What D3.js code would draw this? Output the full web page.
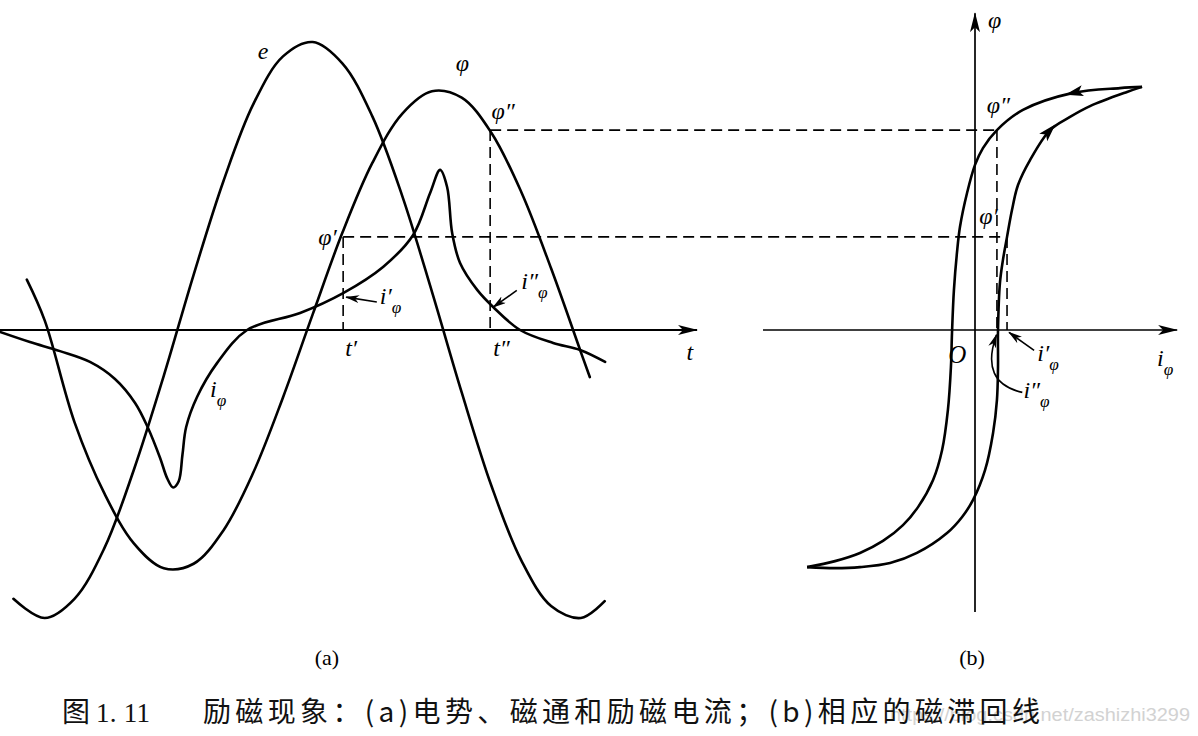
<!DOCTYPE html>
<html>
<head>
<meta charset="utf-8">
<script src="https://cdn.jsdelivr.net/npm/d3@7"></script>
<style>
  body { margin: 0; background: #fff; }
  svg { display: block; }
  .math { font-family: "Liberation Serif", "DejaVu Serif", serif; font-style: italic; }
</style>
</head>
<body>
<div id="figure"></div>
<script>
// (a) time curves: t in electrical degrees, values normalised to flux amplitude
const phiPts = [[18,0.21],[30,0.04],[50,-0.384],[70,-0.68],[90,-0.89],[110,-0.993],[130,-0.974],
  [150,-0.835],[170,-0.595],[190,-0.281],[210,0.066],[230,0.407],[250,0.696],[270,0.901],[290,0.995],
  [310,0.968],[330,0.821],[350,0.575],[370,0.257],[390,-0.092],[396,-0.196]];

const ePts = [[9,-1.12],[30,-1.2],[50,-1.12],[70,-0.91],[90,-0.58],[110,-0.19],[130,0.23],[150,0.62],
  [170,0.94],[190,1.14],[210,1.2],[230,1.11],[250,0.89],[270,0.56],[290,0.16],[310,-0.26],[330,-0.65],
  [350,-0.96],[370,-1.15],[390,-1.2],[406,-1.13]];

const iPts = [[0,-0.008],[20.1,-0.05],[40.3,-0.088],[60.4,-0.133],[77.2,-0.204],[90.7,-0.304],
  [99.4,-0.408],[107.5,-0.533],[112.2,-0.617],[116.2,-0.656],[120,-0.63],[122.5,-0.52],[125,-0.404],
  [132.3,-0.279],[145.7,-0.138],[165.9,0],[201.5,0.071],[230.4,0.154],[257.2,0.263],[277.4,0.396],
  [288.8,0.571],[295.5,0.667],[300.2,0.596],[303.6,0.404],[308.9,0.279],[320.4,0.167],
  [331.1,0.096],[349.2,0],[371.4,-0.054],[389.5,-0.083],[406.3,-0.133]];

// (b) hysteresis loop: [i_phi, phi]
const upperBranch = [[0.777,1.013],[0.674,1.008],[0.456,0.988],[0.223,0.917],[0.102,0.833],[0.037,0.758],
  [0,0.688],[-0.037,0.571],[-0.070,0.429],[-0.084,0.321],[-0.098,0.167],[-0.107,-0.013],[-0.112,-0.154],
  [-0.126,-0.333],[-0.153,-0.5],[-0.195,-0.625],[-0.265,-0.738],[-0.335,-0.813],[-0.428,-0.879],
  [-0.535,-0.929],[-0.651,-0.963],[-0.781,-0.988]];
const lowerBranch = [[-0.781,-0.988],[-0.651,-0.992],[-0.535,-0.988],[-0.395,-0.971],[-0.270,-0.929],
  [-0.130,-0.846],[-0.060,-0.779],[-0.009,-0.708],[0.047,-0.583],[0.084,-0.429],[0.102,-0.292],
  [0.107,-0.154],[0.107,0],[0.116,0.196],[0.130,0.292],[0.149,0.388],[0.172,0.5],[0.2,0.604],
  [0.256,0.708],[0.349,0.833],[0.442,0.888],[0.535,0.933],[0.707,0.992],[0.777,1.013]];

// marked instants
const tPrime = 230.4, tDouble = 329.1;
const phiPrime = 0.388, phiDouble = 0.833;
const iPrime = 0.149, iDouble = 0.102;

const W = 1198, H = 736;
const x = d3.scaleLinear().domain([0, 470]).range([0, 700]);
const y = d3.scaleLinear().domain([-1, 1]).range([570, 90]);
const xi = d3.scaleLinear().domain([-1, 1]).range([760, 1190]);

const svg = d3.select("#figure").append("svg")
  .attr("width", W).attr("height", H);

const defs = svg.append("defs");
defs.append("marker")
  .attr("id", "axisArrow")
  .attr("viewBox", "0 0 20 10")
  .attr("refX", 19).attr("refY", 5)
  .attr("markerWidth", 20).attr("markerHeight", 10)
  .attr("markerUnits", "userSpaceOnUse")
  .attr("orient", "auto")
  .append("path").attr("d", "M0,0 L20,5 L0,10 L5,5 Z").attr("fill", "#000");
defs.append("marker")
  .attr("id", "smallArrow")
  .attr("viewBox", "0 0 14 8")
  .attr("refX", 13).attr("refY", 4)
  .attr("markerWidth", 14).attr("markerHeight", 8)
  .attr("markerUnits", "userSpaceOnUse")
  .attr("orient", "auto")
  .append("path").attr("d", "M0,0 L14,4 L0,8 L4,4 Z").attr("fill", "#000");

const smooth = d3.line().curve(d3.curveCatmullRom.alpha(0.5)).x(d => x(d[0])).y(d => y(d[1]));

// ---- panel (a)
svg.append("line")
  .attr("x1", x(0)).attr("x2", x(468)).attr("y1", y(0)).attr("y2", y(0))
  .attr("stroke", "#000").attr("stroke-width", 2).attr("marker-end", "url(#axisArrow)");

const dash = { stroke: "#000", width: 1.6, array: "11,6" };
function dashed(x1, y1, x2, y2) {
  svg.append("line")
    .attr("x1", x1).attr("y1", y1).attr("x2", x2).attr("y2", y2)
    .attr("stroke", dash.stroke).attr("stroke-width", dash.width)
    .attr("stroke-dasharray", dash.array);
}
dashed(x(tPrime), y(phiPrime), xi(iPrime), y(phiPrime));
dashed(x(tPrime), y(phiPrime), x(tPrime), y(0));
dashed(x(tDouble), y(phiDouble), xi(iDouble), y(phiDouble));
dashed(x(tDouble), y(phiDouble), x(tDouble), y(0));
dashed(xi(iDouble), y(phiDouble), xi(iDouble), y(0));
dashed(xi(iPrime), y(phiPrime), xi(iPrime), y(0));

[ePts, phiPts, iPts].forEach(pts => {
  svg.append("path")
    .attr("d", smooth(pts))
    .attr("fill", "none").attr("stroke", "#000").attr("stroke-width", 2.6)
    .attr("stroke-linecap", "round");
});

// ---- panel (b)
svg.append("line")
  .attr("x1", xi(-0.986)).attr("x2", xi(0.94)).attr("y1", y(0)).attr("y2", y(0))
  .attr("stroke", "#000").attr("stroke-width", 1.7).attr("marker-end", "url(#axisArrow)");
svg.append("line")
  .attr("x1", xi(0)).attr("x2", xi(0)).attr("y1", y(-1.175)).attr("y2", y(1.32))
  .attr("stroke", "#000").attr("stroke-width", 1.7).attr("marker-end", "url(#axisArrow)");

const iLine = d3.line().curve(d3.curveCatmullRom.alpha(0.5)).x(d => xi(d[0])).y(d => y(d[1]));
[upperBranch, lowerBranch].forEach(pts => {
  svg.append("path")
    .attr("d", iLine(pts))
    .attr("fill", "none").attr("stroke", "#000").attr("stroke-width", 2.6)
    .attr("stroke-linejoin", "round");
});

// direction arrows on loop
function loopArrow(pts, k) {
  const p0 = [xi(pts[k - 1][0]), y(pts[k - 1][1])];
  const p1 = [xi(pts[k + 1][0]), y(pts[k + 1][1])];
  const c = [xi(pts[k][0]), y(pts[k][1])];
  const ang = Math.atan2(p1[1] - p0[1], p1[0] - p0[0]) * 180 / Math.PI;
  svg.append("path")
    .attr("d", "M8,0 L-10,-5.5 L-6,0 L-10,5.5 Z")
    .attr("fill", "#000")
    .attr("transform", `translate(${c[0]},${c[1]}) rotate(${ang})`);
}
loopArrow(upperBranch, 2);
loopArrow(lowerBranch, 19);

// ---- labels
function mathLabel(px, py, main, sub, size) {
  const t = svg.append("text").attr("class", "math")
    .attr("x", px).attr("y", py).attr("font-size", size || 24);
  t.append("tspan").text(main);
  if (sub) t.append("tspan").attr("font-size", (size || 24) * 0.72).attr("dy", 9).text(sub);
  return t;
}
function pointer(x1, y1, x2, y2) {
  svg.append("line")
    .attr("x1", x1).attr("y1", y1).attr("x2", x2).attr("y2", y2)
    .attr("stroke", "#000").attr("stroke-width", 1.6).attr("marker-end", "url(#smallArrow)");
}

mathLabel(x(173), y(1.13), "e");
mathLabel(x(306), y(1.08), "φ");
mathLabel(x(330), y(0.88), "φ″");
mathLabel(x(tPrime) - 25, y(phiPrime) + 8, "φ′");
mathLabel(x(255), y(0.11), "i′", "φ");
pointer(x(253), y(0.117), x(tPrime) + 3, y(0.137));
mathLabel(x(350), y(0.17), "i″", "φ");
pointer(x(347), y(0.165), x(tDouble) + 3, y(0.095));
mathLabel(x(tPrime) + 2, y(-0.11), "t′");
mathLabel(x(tDouble) + 3, y(-0.11), "t″");
mathLabel(x(461), y(-0.125), "t");
mathLabel(x(141), y(-0.28), "i", "φ");

mathLabel(xi(0.06), y(1.26), "φ");
mathLabel(xi(0.055), y(0.905), "φ″");
mathLabel(xi(0.02), y(0.44), "φ′");
mathLabel(xi(-0.125), y(-0.138), "O", null, 25);
mathLabel(xi(0.29), y(-0.13), "i′", "φ");
pointer(xi(0.275), y(-0.085), xi(iPrime) + 2, y(-0.01));
mathLabel(xi(0.225), y(-0.285), "i″", "φ");
svg.append("path")
  .attr("d", `M${xi(0.22)},${y(-0.26)} Q${xi(0.02)},${y(-0.22)} ${xi(0.1)},${y(-0.02)}`)
  .attr("fill", "none").attr("stroke", "#000").attr("stroke-width", 1.6)
  .attr("marker-end", "url(#smallArrow)");
mathLabel(xi(0.847), y(-0.148), "i", "φ");

// sub-figure tags and caption
svg.append("text").attr("x", 327).attr("y", 665).attr("text-anchor", "middle")
  .attr("font-family", "Liberation Serif, serif").attr("font-size", 22).text("(a)");
svg.append("text").attr("x", 972).attr("y", 665).attr("text-anchor", "middle")
  .attr("font-family", "Liberation Serif, serif").attr("font-size", 22).text("(b)");

svg.append("text").attr("x", 890).attr("y", 721)
  .attr("font-family", "Liberation Sans, sans-serif").attr("font-size", 18)
  .attr("fill", "#d2d2d2").attr("textLength", 300).attr("lengthAdjust", "spacingAndGlyphs")
  .text("https://blog.csdn.net/zashizhi3299");

const cap = svg.append("g").attr("font-family", "Noto Sans CJK SC, sans-serif")
  .attr("font-size", 28).attr("fill", "#111");
cap.append("text").attr("x", 62).attr("y", 722).text("图");
cap.append("text").attr("x", 96).attr("y", 722).attr("font-family", "Liberation Serif, serif")
  .attr("font-size", 27).attr("textLength", 54).text("1. 11");
cap.append("text").attr("x", 203).attr("y", 722)
  .attr("textLength", 837).attr("lengthAdjust", "spacing")
  .text("励磁现象：(a)电势、磁通和励磁电流；(b)相应的磁滞回线");
</script>
</body>
</html>
